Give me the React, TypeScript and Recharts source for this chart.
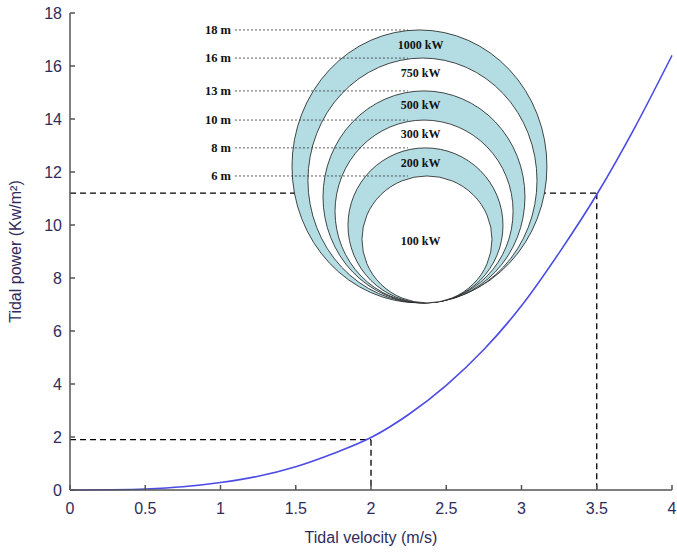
import React from 'react';
import {
  LineChart,
  Line,
  XAxis,
  YAxis,
  ReferenceLine,
  ReferenceArea,
  ReferenceDot
} from 'recharts';

// curve
const velocity = [0, 0.25, 0.5, 0.75, 1, 1.25, 1.5, 1.75, 2, 2.25, 2.5, 2.75, 3, 3.25, 3.5, 3.75, 4];
const power = [0, 0.01, 0.04, 0.12, 0.28, 0.52, 0.88, 1.38, 1.98, 2.85, 3.95, 5.3, 6.95, 8.95, 11.15, 13.65, 16.4];

const xTicks = [0, 0.5, 1, 1.5, 2, 2.5, 3, 3.5, 4];
const yTicks = [0, 2, 4, 6, 8, 10, 12, 14, 16, 18];

// dashed guide lines (velocity -> power)
const guideVelocity = [2, 3.5];
const guidePower = [1.9, 11.2];

// inset: turbine diameters and rated power, rings in chart units
const depthLabels = ['18 m', '16 m', '13 m', '10 m', '8 m', '6 m'];
const powerLabels = ['1000 kW', '750 kW', '500 kW', '300 kW', '200 kW', '100 kW'];
const ringLeft = [1.475, 1.581, 1.681, 1.761, 1.847, 1.94];
const ringRight = [3.169, 3.103, 3.023, 2.944, 2.877, 2.804];
const ringTop = [17.36, 16.3, 15.06, 13.96, 12.91, 11.85];
const ringBottom = 7.06;
const powerLabelY = [16.79, 15.74, 14.53, 13.43, 12.34, 9.4];
const powerLabelX = 2.33;
const depthLineFrom = 1.096;
const depthLineTo = 2.246;

const data = velocity.map((v, i) => ({ v, p: power[i] }));

const tickColor = '#2f2c5c';
const sans = 'Liberation Sans, Arial, sans-serif';
const serif = 'Liberation Serif, Times New Roman, serif';

const Ellipse = (fill: string) => (props: any) => {
  const { x, y, width, height } = props;
  return (
    <ellipse
      cx={x + width / 2}
      cy={y + height / 2}
      rx={width / 2}
      ry={height / 2}
      fill={fill}
      stroke="#1a1a1a"
      strokeWidth={0.8}
    />
  );
};

const App: React.FC = () => {
  return (
    <div style={{ position: 'absolute', left: 0, top: 0, width: 677, height: 553, background: '#fff' }}>
      <LineChart width={677} height={553} data={data} margin={{ top: 13, right: 5, bottom: 3, left: 0 }}>
        <XAxis
          dataKey="v"
          type="number"
          domain={[0, 4]}
          ticks={xTicks}
          height={60}
          tickSize={-5}
          tickMargin={18}
          stroke="#555"
          strokeWidth={1.5}
          tick={{ fill: tickColor, fontSize: 16, fontFamily: sans }}
          label={{ value: 'Tidal velocity (m/s)', position: 'center', dy: 17, fill: tickColor, fontSize: 16, fontFamily: sans }}
        />
        <XAxis
          xAxisId="top"
          orientation="top"
          dataKey="v"
          type="number"
          domain={[0, 4]}
          ticks={xTicks}
          height={0}
          tickSize={-5}
          stroke="#555"
          strokeWidth={1.5}
          tickFormatter={() => ''}
        />
        <YAxis
          type="number"
          domain={[0, 18]}
          ticks={yTicks}
          width={70}
          tickSize={-5}
          tickMargin={13}
          stroke="#555"
          strokeWidth={1.5}
          tick={{ fill: tickColor, fontSize: 16, fontFamily: sans }}
          label={{ value: 'Tidal power (Kw/m²)', angle: -90, position: 'center', dx: -20, fill: tickColor, fontSize: 16, fontFamily: sans }}
        />
        <YAxis
          yAxisId="right"
          orientation="right"
          type="number"
          domain={[0, 18]}
          ticks={yTicks}
          width={0}
          tickSize={-5}
          stroke="#555"
          strokeWidth={1.5}
          tickFormatter={() => ''}
        />

        {guideVelocity.map((v, i) => (
          <ReferenceLine
            key={'gh' + i}
            segment={[{ x: 0, y: guidePower[i] }, { x: v, y: guidePower[i] }]}
            stroke="#000"
            strokeWidth={1.3}
            strokeDasharray="6 4"
            zIndex={50}
          />
        ))}
        {guideVelocity.map((v, i) => (
          <ReferenceLine
            key={'gv' + i}
            segment={[{ x: v, y: guidePower[i] }, { x: v, y: 0 }]}
            stroke="#000"
            strokeWidth={1.3}
            strokeDasharray="6 4"
            zIndex={50}
          />
        ))}

        {depthLabels.map((d, i) => (
          <ReferenceArea
            key={'ring' + i}
            x1={ringLeft[i]}
            x2={ringRight[i]}
            y1={ringBottom}
            y2={ringTop[i]}
            shape={Ellipse(i % 2 === 0 ? '#b3dde3' : '#ffffff')}
            zIndex={100 + i}
          />
        ))}

        {depthLabels.map((d, i) => (
          <ReferenceLine
            key={'depth' + i}
            segment={[{ x: depthLineFrom, y: ringTop[i] }, { x: depthLineTo, y: ringTop[i] }]}
            stroke="#333"
            strokeWidth={0.8}
            strokeDasharray="2 2"
            zIndex={300}
            label={{ value: d, position: 'left', offset: 4, fill: '#111', fontSize: 12.5, fontWeight: 'bold', fontFamily: serif }}
          />
        ))}

        {powerLabels.map((p, i) => (
          <ReferenceDot
            key={'pw' + i}
            x={powerLabelX}
            y={powerLabelY[i]}
            r={0}
            fill="none"
            stroke="none"
            zIndex={350}
            label={{ value: p, position: 'center', fill: '#111', fontSize: 12, fontWeight: 'bold', fontFamily: serif }}
          />
        ))}

        <Line
          type="monotone"
          dataKey="p"
          stroke="#4b4be6"
          strokeWidth={1.6}
          dot={false}
          activeDot={false}
          isAnimationActive={false}
        />
      </LineChart>
    </div>
  );
};

export default App;
